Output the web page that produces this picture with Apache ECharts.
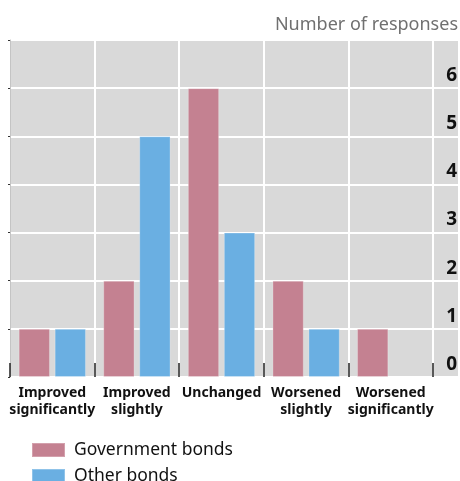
<!DOCTYPE html>
<html>
<head>
<meta charset="utf-8">
<style>
  html, body { margin: 0; padding: 0; background: #ffffff; }
  #chart { width: 460px; height: 481px; }
</style>
<script src="https://cdn.jsdelivr.net/npm/echarts@6/dist/echarts.min.js"></script>
</head>
<body>
<div id="chart"></div>
<script>
// Survey answers per category
const categories = [
  'Improved\nsignificantly',
  'Improved\nslightly',
  'Unchanged',
  'Worsened\nslightly',
  'Worsened\nsignificantly'
];
const governmentBonds = [1, 2, 6, 2, 1];
const otherBonds = [1, 5, 3, 1, 0];
const seriesNames = ['Government bonds', 'Other bonds'];
const yTicks = [0, 1, 2, 3, 4, 5, 6];
const yMax = 7;

const FONT = '"Noto Sans", "Open Sans", sans-serif';
const PINK = '#c48191';
const BLUE = '#6aafe2';

const chart = echarts.init(document.getElementById('chart'), null, { renderer: 'canvas' });

const option = {
  animation: false,
  textStyle: { fontFamily: FONT },
  title: {
    text: 'Number of responses',
    right: 2,
    top: 16,
    padding: 0,
    textStyle: { fontFamily: FONT, fontSize: 18, fontWeight: 'normal', color: '#707070' }
  },
  legend: {
    orient: 'vertical',
    left: 31,
    top: 441,
    height: 90,
    padding: 0,
    itemWidth: 33,
    itemHeight: 14,
    itemGap: 8,
    icon: 'rect',
    data: seriesNames,
    textStyle: { fontFamily: FONT, fontSize: 17.5, color: '#111', lineHeight: 17, padding: [0, 0, 0, 4] }
  },
  grid: [
    // full-width panel carrying the background and horizontal gridlines
    { left: 10, right: 0, top: 40, bottom: 104, show: true, backgroundColor: '#d9d9d9', borderWidth: 0 },
    // category panel holding the bars
    { left: 10, right: 27, top: 40, bottom: 104, show: false }
  ],
  xAxis: [
    { gridIndex: 0, type: 'value', min: 0, max: 1, show: false },
    {
      gridIndex: 1,
      type: 'category',
      data: categories,
      boundaryGap: true,
      axisLine: { show: false },
      axisTick: { show: true, inside: true, length: 14, lineStyle: { color: '#222', width: 1.5 } },
      splitLine: { show: true, lineStyle: { color: '#ffffff', width: 2 } },
      axisLabel: {
        interval: 0,
        margin: 8,
        fontFamily: FONT,
        fontSize: 14,
        fontWeight: 'bold',
        lineHeight: 17,
        color: '#111'
      }
    }
  ],
  yAxis: [
    {
      gridIndex: 0,
      type: 'value',
      position: 'right',
      min: 0,
      max: yMax,
      interval: 1,
      axisLine: { show: false },
      axisTick: { show: false },
      splitLine: { show: true, lineStyle: { color: '#ffffff', width: 2 } },
      axisLabel: {
        inside: true,
        margin: 1,
        verticalAlign: 'bottom',
        padding: [0, 0, 3, 0],
        fontFamily: FONT,
        fontSize: 19,
        fontWeight: 'bold',
        color: '#111',
        formatter: v => (yTicks.indexOf(v) >= 0 ? String(v) : '')
      }
    },
    {
      gridIndex: 1,
      type: 'value',
      position: 'left',
      min: 0,
      max: yMax,
      interval: 1,
      axisLine: { show: true, lineStyle: { color: '#c4c4c4', width: 1 } },
      axisTick: { show: true, length: 2, lineStyle: { color: '#333' } },
      splitLine: { show: false },
      axisLabel: { show: false }
    }
  ],
  series: [
    {
      name: seriesNames[0],
      type: 'bar',
      xAxisIndex: 1,
      yAxisIndex: 1,
      data: governmentBonds,
      barWidth: '37%',
      barGap: '15%',
      itemStyle: { color: PINK, borderColor: 'rgba(255,255,255,0.25)', borderWidth: 1 }
    },
    {
      name: seriesNames[1],
      type: 'bar',
      xAxisIndex: 1,
      yAxisIndex: 1,
      data: otherBonds,
      barWidth: '37%',
      barGap: '15%',
      itemStyle: { color: BLUE, borderColor: 'rgba(255,255,255,0.25)', borderWidth: 1 }
    }
  ]
};

chart.setOption(option);
</script>
</body>
</html>
